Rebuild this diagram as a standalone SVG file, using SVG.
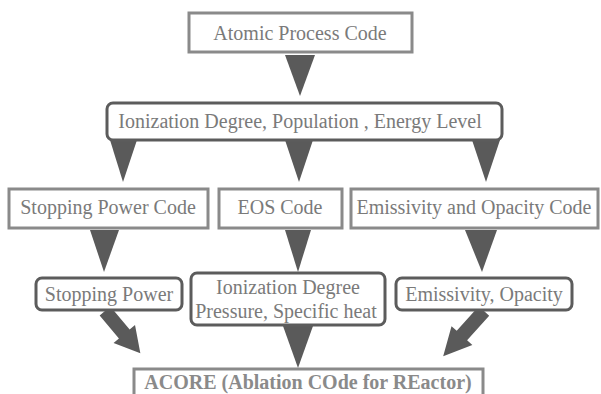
<svg xmlns="http://www.w3.org/2000/svg" width="601" height="394" viewBox="0 0 601 394">
<style>
text{font-family:"Liberation Serif","Times New Roman",serif;font-size:20px;fill:#7a7a7a;text-anchor:middle}
.sq{fill:#fff;stroke:#8a8a8a;stroke-width:3}
.rd{fill:#fff;stroke:#5c5c5c;stroke-width:3}
.ar{fill:#5a5a5a}
.b{font-weight:bold;fill:#8a8a8a}
</style>
<rect width="601" height="394" fill="#fff"/>
<g id="connectors">
<polygon class="ar" points="285,55 315,55 300,96"/>
<polygon class="ar" points="110,140 137,140 123,182"/>
<polygon class="ar" points="285,140 313,140 299,182"/>
<polygon class="ar" points="472,140 500,140 486,182"/>
<polygon class="ar" points="90,230 119,230 104,272"/>
<polygon class="ar" points="285,230 311,230 298,272"/>
<polygon class="ar" points="465,230 497,230 482,272"/>
<polygon class="ar" points="283,326 313,326 298,368"/>
<path class="ar" d="M0,-7 L30,-7 L30,-14 L55,0 L30,14 L30,7 L0,7 Z" transform="translate(105,311) rotate(50)"/>
<path class="ar" d="M0,-7 L33,-7 L33,-14 L61,0 L33,14 L33,7 L0,7 Z" transform="translate(484,311) rotate(132)"/>
</g>
<g id="atomic">
<rect class="sq" x="189" y="13" width="223" height="39"/>
<text x="300" y="40">Atomic Process Code</text>
</g>
<g id="ionization">
<rect class="rd" x="107" y="103" width="395" height="37" rx="6"/>
<text x="300" y="128">Ionization Degree, Population , Energy Level</text>
</g>
<g id="stopcode">
<rect class="sq" x="9" y="189" width="199" height="39"/>
<text x="108" y="214">Stopping Power Code</text>
</g>
<g id="eoscode">
<rect class="sq" x="219" y="189" width="123" height="39"/>
<text x="280" y="214">EOS Code</text>
</g>
<g id="emcode">
<rect class="sq" x="351" y="189" width="247" height="39"/>
<text x="474" y="214">Emissivity and Opacity Code</text>
</g>
<g id="stop">
<rect class="rd" x="36" y="278" width="146" height="32" rx="6"/>
<text x="109" y="301">Stopping Power</text>
</g>
<g id="ioneos">
<rect class="rd" x="191" y="273" width="194" height="52" rx="6"/>
<text x="288" y="294">Ionization Degree</text>
<text x="286" y="318">Pressure, Specific heat</text>
</g>
<g id="emop">
<rect class="rd" x="396" y="278" width="176" height="32" rx="6"/>
<text x="484" y="301">Emissivity, Opacity</text>
</g>
<g id="acore">
<rect class="sq" x="134" y="369" width="349" height="40"/>
<text class="b" x="308" y="389">ACORE (Ablation COde for REactor)</text>
</g>
</svg>
